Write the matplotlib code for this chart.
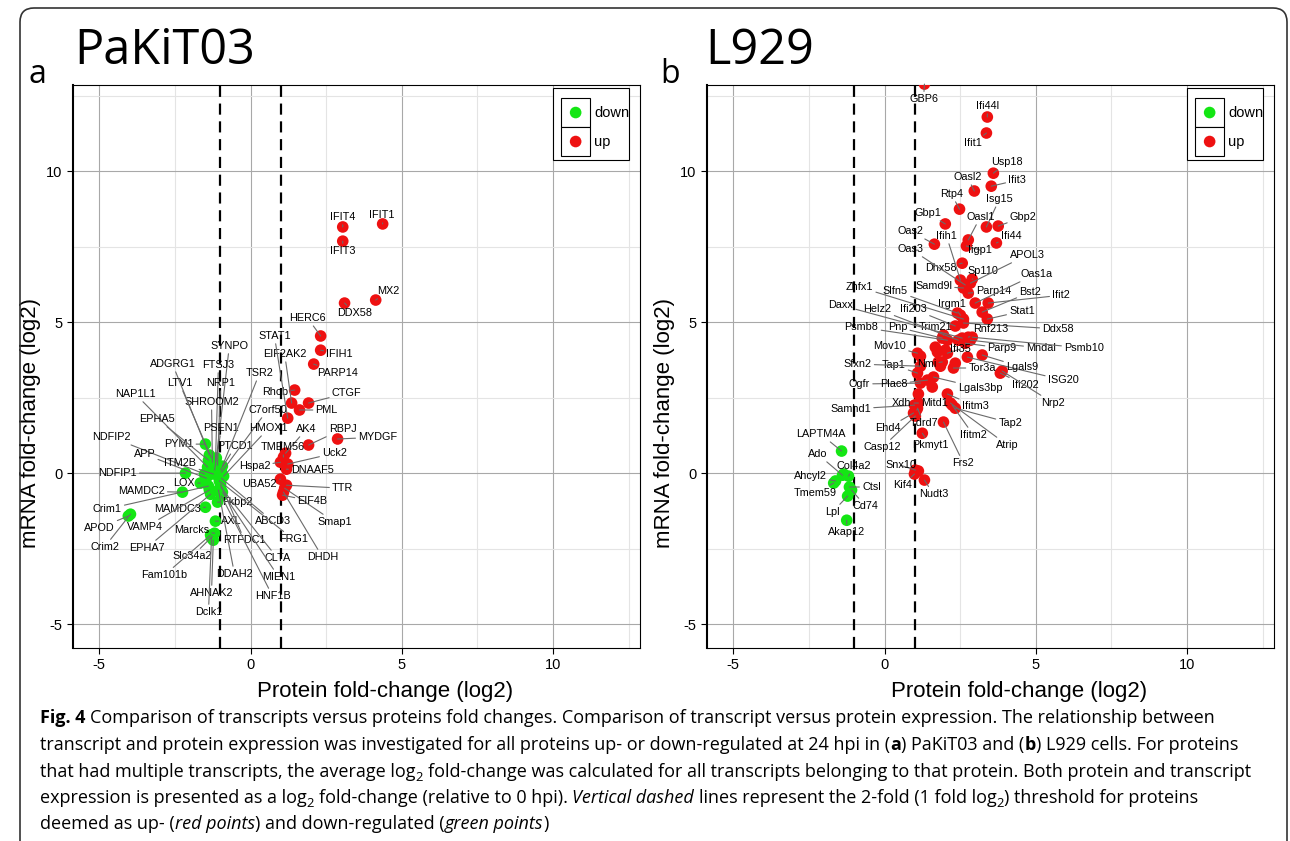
import matplotlib
matplotlib.use('Agg')
import matplotlib.pyplot as plt
from matplotlib import font_manager
from matplotlib.patches import Rectangle, FancyBboxPatch
from matplotlib.transforms import IdentityTransform

plt.rcParams['axes.unicode_minus'] = False
plt.rcParams['font.family'] = ['Liberation Sans', 'DejaVu Sans']

W, H = 1290, 841
GREEN = '#14e614'
RED = '#ee1111'

# ---------------- panel a : PaKiT03 ----------------
a_up = ['IFIT1', 'IFIT4', 'IFIT3', 'MX2', 'DDX58', 'HERC6', 'IFIH1', 'PARP14', 'Rhob',
        'EIF2AK2', 'CTGF', 'PML', 'STAT1', 'RBPJ', 'MYDGF', 'AK4', 'TMEM56', 'Hspa2',
        'Uck2', 'DNAAF5', 'UBA52', 'TTR', 'Smap1', 'DHDH', 'EIF4B']
a_up_x = [4.37, 3.05, 3.05, 4.14, 3.11, 2.32, 2.32, 2.09, 1.46,
          1.36, 1.92, 1.62, 1.23, 1.92, 2.88, 1.16, 1.09, 0.99,
          1.23, 1.19, 0.99, 1.19, 1.13, 1.09, 1.06]
a_up_y = [8.25, 8.15, 7.68, 5.73, 5.63, 4.54, 4.07, 3.61, 2.75,
          2.32, 2.32, 2.09, 1.82, 0.93, 1.13, 0.66, 0.53, 0.36,
          0.30, 0.13, -0.20, -0.40, -0.50, -0.63, -0.73]

a_down = ['PYM1', 'NDFIP1', 'LOX', 'MAMDC2', 'Fkbp2', 'MAMDC3', 'APOD', 'Crim2', 'AXL',
          'Slc34a2', 'Marcks', 'AHNAK2', 'Dclk1', 'Fam101b', 'SYNPO', 'FTSJ3', 'NRP1',
          'SHROOM2', 'PSEN1', 'PTCD1', 'ADGRG1', 'LTV1', 'NAP1L1', 'EPHA5', 'NDFIP2',
          'APP', 'ITM2B', 'Crim1', 'VAMP4', 'EPHA7', 'DDAH2', 'RTFDC1', 'ABCD3', 'FRG1',
          'CLTA', 'MIEN1', 'HNF1B', 'TSR2', 'C7orf50', 'HMOX1']
a_down_x = [-1.49, -2.15, -1.66, -2.25, -1.09, -1.49, -4.04, -3.97, -1.16,
            -1.26, -1.19, -1.23, -1.29, -1.32, -1.13, -1.16, -1.09,
            -1.26, -1.19, -0.99, -1.36, -1.29, -1.42, -1.39, -1.52,
            -1.46, -1.23, -1.39, -1.36, -1.32, -1.06, -0.99, -0.96, -1.03,
            -0.99, -0.93, -0.96, -0.93, -0.96, -0.89]
a_down_y = [0.96, 0.00, -0.33, -0.63, -0.96, -1.13, -1.42, -1.36, -1.59,
            -2.09, -1.99, -2.22, -2.15, -2.05, 0.50, 0.36, 0.26,
            0.36, 0.10, 0.10, 0.60, 0.50, 0.20, 0.43, -0.03,
            -0.17, -0.03, -0.43, -0.56, -0.70, -0.56, -0.36, -0.17, -0.26,
            -0.46, -0.63, -0.76, 0.23, 0.03, -0.10]

# label placement (repelled text positions, data units)
a_labels = {
    'IFIT1': (4.34, 8.54), 'IFIT4': (3.05, 8.48), 'IFIT3': (3.05, 7.35), 'MX2': (4.57, 6.03),
    'DDX58': (3.44, 5.30), 'HERC6': (1.89, 5.13), 'IFIH1': (2.95, 3.94), 'PARP14': (2.88, 3.31),
    'Rhob': (0.83, 2.68), 'EIF2AK2': (1.13, 3.94), 'CTGF': (3.18, 2.65), 'PML': (2.52, 2.09),
    'STAT1': (0.79, 4.54), 'RBPJ': (3.05, 1.46), 'MYDGF': (4.21, 1.19), 'AK4': (1.85, 1.46),
    'TMEM56': (1.06, 0.86), 'Hspa2': (0.13, 0.23), 'Uck2': (2.78, 0.66), 'DNAAF5': (2.05, 0.10),
    'UBA52': (0.30, -0.36), 'TTR': (3.05, -0.50), 'Smap1': (2.78, -1.62), 'DHDH': (2.38, -2.78),
    'EIF4B': (2.05, -0.93),
    'SYNPO': (-0.70, 4.21), 'FTSJ3': (-1.06, 3.58), 'ADGRG1': (-2.58, 3.61), 'LTV1': (-2.35, 2.98),
    'NRP1': (-0.99, 2.98), 'NAP1L1': (-3.81, 2.62), 'SHROOM2': (-1.29, 2.35), 'EPHA5': (-3.08, 1.79),
    'PSEN1': (-0.96, 1.49), 'NDFIP2': (-4.60, 1.19), 'PTCD1': (-0.50, 0.89), 'PYM1': (-2.38, 0.96),
    'APP': (-3.51, 0.63), 'ITM2B': (-2.32, 0.33), 'NDFIP1': (-4.40, 0.00), 'LOX': (-2.19, -0.33),
    'MAMDC2': (-3.61, -0.60), 'Crim1': (-4.74, -1.19), 'APOD': (-5.00, -1.82), 'VAMP4': (-3.48, -1.79),
    'MAMDC3': (-2.42, -1.19), 'Crim2': (-4.83, -2.45), 'EPHA7': (-3.44, -2.48), 'Marcks': (-1.95, -1.89),
    'Fkbp2': (-0.43, -0.96), 'AXL': (-0.63, -1.59), 'RTFDC1': (-0.20, -2.22), 'Slc34a2': (-1.92, -2.75),
    'Fam101b': (-2.85, -3.38), 'DDAH2': (-0.53, -3.34), 'AHNAK2': (-1.29, -3.97), 'Dclk1': (-1.39, -4.60),
    'ABCD3': (0.73, -1.59), 'FRG1': (1.42, -2.19), 'CLTA': (0.89, -2.81), 'MIEN1': (0.93, -3.44),
    'HNF1B': (0.73, -4.07), 'TSR2': (0.30, 3.31), 'C7orf50': (0.56, 2.09), 'HMOX1': (0.60, 1.49),
}

# ---------------- panel b : L929 ----------------
b_up = ['GBP6', 'Ifi44l', 'Ifit1', 'Usp18', 'Ifit3', 'Oasl2', 'Rtp4', 'Gbp1', 'Isg15', 'Gbp2',
        'Oasl1', 'Iigp1', 'Ifi44', 'Oas2', 'Dhx58', 'Ifih1', 'Oas3', 'Sp110', 'APOL3', 'Samd9l',
        'Parp14', 'Oas1a', 'Ifit2', 'Bst2', 'Stat1', 'Irgm1', 'Slfn5', 'Zhfx1', 'Ddx58', 'Ifi203',
        'Rnf213', 'Trim21', 'Helz2', 'Daxx', 'Psmb8', 'Pnp', 'Parp9', 'Mndal', 'Psmb10', 'Mov10',
        'Ifi35', 'ISG20', 'Lgals9', 'Tor3a', 'Ifi202', 'Nrp2', 'Nmi', 'Tap1', 'Sfxn2', 'Ogfr',
        'Plac8', 'Lgals3bp', 'Samhd1', 'Xdh', 'Mitd1', 'Ehd4', 'Casp12', 'Tdrd7', 'Ifitm3', 'Tap2',
        'Ifitm2', 'Atrip', 'Pkmyt1', 'Frs2', 'Snx10', 'Kif4', 'Nudt3',
        '', '', '', '', '', '', '', '', '', '']
b_up_x = [1.32, 3.40, 3.37, 3.60, 3.53, 2.97, 2.48, 2.01, 3.37, 3.76,
          2.77, 2.71, 3.70, 1.65, 2.57, 2.51, 2.67, 2.90, 2.84, 2.61,
          2.77, 3.00, 3.43, 3.23, 3.40, 2.51, 2.41, 2.61, 2.61, 2.34,
          2.77, 1.95, 2.44, 2.57, 2.08, 1.91, 2.67, 2.84, 2.90, 1.09,
          2.08, 2.74, 3.23, 2.28, 3.83, 3.89, 1.91, 1.09, 1.19, 1.19,
          1.42, 1.62, 0.99, 1.12, 1.06, 0.96, 1.02, 1.09, 2.08, 2.34,
          2.24, 2.18, 1.25, 1.95, 1.02, 0.99, 1.32,
          1.75, 1.68, 2.01, 1.78, 1.85, 2.34, 1.58, 1.12, 1.19, 1.12]
b_up_y = [12.88, 11.79, 11.26, 9.93, 9.50, 9.34, 8.74, 8.25, 8.15, 8.18,
          7.72, 7.52, 7.62, 7.58, 6.95, 6.39, 6.23, 6.42, 6.29, 6.13,
          5.96, 5.63, 5.63, 5.33, 5.10, 5.23, 5.30, 5.10, 4.97, 4.87,
          4.50, 4.57, 4.40, 4.47, 4.40, 4.47, 4.30, 4.40, 4.50, 3.97,
          3.97, 3.84, 3.91, 3.48, 3.31, 3.38, 3.68, 3.31, 3.54, 2.98,
          3.08, 3.18, 2.25, 2.32, 2.09, 1.99, 1.89, 2.15, 2.62, 2.15,
          2.25, 2.32, 1.32, 1.69, 0.10, -0.03, -0.23,
          4.01, 4.17, 4.07, 3.68, 3.54, 3.64, 2.85, 2.62, 3.87, 0.07]

b_down = ['LAPTM4A', 'Ado', 'Col4a2', 'Ahcyl2', 'Tmem59', 'Ctsl', 'Cd74', 'Lpl', 'Akap12', '']
b_down_x = [-1.42, -1.39, -1.19, -1.62, -1.68, -1.16, -1.09, -1.22, -1.25, -1.35]
b_down_y = [0.73, -0.07, -0.10, -0.26, -0.33, -0.46, -0.56, -0.76, -1.56, -0.03]

b_labels = {
    'GBP6': (1.29, 12.38), 'Ifi44l': (3.40, 12.15), 'Ifit1': (2.94, 10.93), 'Usp18': (4.06, 10.30),
    'Ifit3': (4.39, 9.70), 'Oasl2': (2.74, 9.80), 'Rtp4': (2.21, 9.24), 'Isg15': (3.80, 9.07),
    'Gbp1': (1.42, 8.61), 'Oasl1': (3.17, 8.48), 'Gbp2': (4.59, 8.48), 'Oas2': (0.86, 8.01),
    'Ifih1': (2.05, 7.85), 'Ifi44': (4.19, 7.85), 'Iigp1': (3.17, 7.38), 'Oas3': (0.86, 7.42),
    'APOL3': (4.72, 7.22), 'Dhx58': (1.85, 6.79), 'Sp110': (3.27, 6.69), 'Oas1a': (5.02, 6.59),
    'Samd9l': (1.62, 6.19), 'Zhfx1': (-0.83, 6.16), 'Slfn5': (0.36, 6.03), 'Parp14': (3.60, 6.03),
    'Bst2': (4.82, 5.99), 'Ifit2': (5.84, 5.89), 'Daxx': (-1.45, 5.56), 'Helz2': (-0.23, 5.43),
    'Ifi203': (0.96, 5.43), 'Irgm1': (2.24, 5.60), 'Stat1': (4.55, 5.36), 'Psmb8': (-0.76, 4.83),
    'Pnp': (0.43, 4.83), 'Trim21': (1.68, 4.83), 'Rnf213': (3.50, 4.77), 'Ddx58': (5.74, 4.77),
    'Mov10': (0.17, 4.21), 'Ifi35': (2.51, 4.11), 'Parp9': (3.89, 4.14), 'Mndal': (5.18, 4.14),
    'Psmb10': (6.60, 4.14), 'Sfxn2': (-0.89, 3.61), 'Tap1': (0.30, 3.58), 'Nmi': (1.39, 3.61),
    'Tor3a': (3.23, 3.48), 'Lgals9': (4.55, 3.51), 'ISG20': (5.91, 3.08), 'Ifi202': (4.65, 2.91),
    'Ogfr': (-0.83, 2.95), 'Plac8': (0.30, 2.95), 'Lgals3bp': (3.17, 2.81), 'Nrp2': (5.58, 2.32),
    'Samhd1': (-1.12, 2.12), 'Xdh': (0.56, 2.32), 'Mitd1': (1.65, 2.32), 'Ifitm3': (3.00, 2.22),
    'Tap2': (4.16, 1.66), 'Ehd4': (0.10, 1.49), 'Tdrd7': (1.29, 1.66), 'Ifitm2': (2.94, 1.26),
    'Atrip': (4.06, 0.93), 'Casp12': (-0.07, 0.86), 'Pkmyt1': (1.52, 0.93), 'Frs2': (2.61, 0.33),
    'Snx10': (0.53, 0.26), 'Kif4': (0.59, -0.40), 'Nudt3': (1.62, -0.70),
    'LAPTM4A': (-2.11, 1.29), 'Ado': (-2.21, 0.63), 'Col4a2': (-1.02, 0.23), 'Ahcyl2': (-2.44, -0.10),
    'Tmem59': (-2.28, -0.66), 'Ctsl': (-0.43, -0.46), 'Cd74': (-0.63, -1.09), 'Lpl': (-1.72, -1.29),
    'Akap12': (-1.25, -1.95),
}

fig = plt.figure(figsize=(W / 100, H / 100), dpi=100)


def panel(left, up, up_x, up_y, down, down_x, down_y, labels):
    ax = fig.add_axes([left / W, 1 - 648 / H, 567 / W, 563 / H])
    ax.set_xlim(-5.87, 12.88)
    ax.set_ylim(-5.79, 12.85)
    ax.set_xticks([-5, 0, 5, 10])
    ax.set_yticks([-5, 0, 5, 10])
    ax.set_xticks([-2.5, 2.5, 7.5, 12.5], minor=True)
    ax.set_yticks([-2.5, 2.5, 7.5, 12.5], minor=True)
    ax.grid(True, which='major', color='#a8a8a8', lw=0.8)
    ax.grid(True, which='minor', color='#e4e4e4', lw=0.8)
    ax.set_axisbelow(True)
    ax.tick_params(which='major', labelsize=10.5, length=4, width=0.8, colors='black')
    ax.tick_params(which='minor', length=0)
    for s in ax.spines.values():
        s.set_color('black')
        s.set_linewidth(0.8)
    ax.spines['left'].set_linewidth(1.5)
    ax.axvline(-1, color='black', lw=1.6, ls=(0, (5, 3)), zorder=2)
    ax.axvline(1, color='black', lw=1.6, ls=(0, (5, 3)), zorder=2)

    for names, xs, ys, col in [(down, down_x, down_y, GREEN), (up, up_x, up_y, RED)]:
        ax.scatter(xs, ys, s=70, color=col, edgecolors='none', zorder=3)
        for g, x, y in zip(names, xs, ys):
            if not g:
                continue
            lx, ly = labels[g]
            ax.annotate(g, (x, y), xytext=(lx, ly), textcoords='data',
                        ha='center', va='center', fontsize=7.8, zorder=4,
                        annotation_clip=False,
                        arrowprops=dict(arrowstyle='-', color='#6a6a6a', lw=0.8,
                                        shrinkA=0, shrinkB=0))

    # legend
    ax.add_patch(Rectangle((0.847, 0.867), 0.134, 0.128, transform=ax.transAxes,
                           fc='white', ec='black', lw=0.8, zorder=5))
    for yk, col, txt in [(0.9254, GREEN, 'down'), (0.8739, RED, 'up')]:
        ax.add_patch(Rectangle((0.861, yk), 0.051, 0.0515, transform=ax.transAxes,
                               fc='white', ec='black', lw=0.8, zorder=6))
        ax.scatter([0.8865], [yk + 0.0257], s=70, color=col, edgecolors='none',
                   transform=ax.transAxes, zorder=7, clip_on=False)
        ax.text(0.919, yk + 0.0257, txt, transform=ax.transAxes, fontsize=10.5,
                va='center', ha='left', zorder=7)

    ax.set_xlabel('Protein fold-change (log2)', fontsize=16)
    ax.xaxis.set_label_coords(0.55, -0.058)
    ax.set_ylabel('mRNA fold-change (log2)', fontsize=16)
    ax.yaxis.set_label_coords(-0.056, 0.40)
    return ax


panel(73, a_up, a_up_x, a_up_y, a_down, a_down_x, a_down_y, a_labels)
panel(707, b_up, b_up_x, b_up_y, b_down, b_down_x, b_down_y, b_labels)

# panel titles
fig.text(74 / W, 1 - 64 / H, 'PaKiT03', fontsize=35, family='Open Sans', va='baseline')
fig.text(28 / W, 1 - 83 / H, 'a', fontsize=23, family='Open Sans', va='baseline')
fig.text(705 / W, 1 - 64 / H, 'L929', fontsize=35, family='Open Sans', va='baseline')
fig.text(660 / W, 1 - 83 / H, 'b', fontsize=23, family='Open Sans', va='baseline')

# rounded frame
fig.add_artist(FancyBboxPatch((20, -30), 1267, 863, boxstyle='round,pad=0,rounding_size=14',
                              transform=IdentityTransform(), fill=False, ec='#333333', lw=1.2))

# caption with mixed styles: pick a family that has a real bold face
CAP = 'DejaVu Sans'
for fam in ['Noto Sans', 'Open Sans', 'Lato', 'Roboto', 'Liberation Sans']:
    weights = [f.weight for f in font_manager.fontManager.ttflist if f.name == fam]
    if any((w == 'bold' or (isinstance(w, int) and w >= 600)) for w in weights):
        CAP = fam
        break
CFS = 13.0
R = fig.canvas.get_renderer()


def width(s, **kw):
    t = fig.text(0, 0, s, fontsize=kw.pop('fontsize', CFS), family=CAP, **kw)
    w = t.get_window_extent(renderer=R).width
    t.remove()
    return w


SW = width('a a') - width('aa')
caption = [
    [('Fig. 4', 'b'), (' Comparison of transcripts versus proteins fold changes. Comparison of transcript '
                      'versus protein expression. The relationship between', 'n')],
    [('transcript and protein expression was investigated for all proteins up- or down-regulated at 24 hpi in (', 'n'),
     ('a', 'b'), (') PaKiT03 and (', 'n'), ('b', 'b'), (') L929 cells. For proteins', 'n')],
    [('that had multiple transcripts, the average log', 'n'), ('2', 's'),
     (' fold-change was calculated for all transcripts belonging to that protein. Both protein and transcript', 'n')],
    [('expression is presented as a log', 'n'), ('2', 's'), (' fold-change (relative to 0 hpi). ', 'n'),
     ('Vertical dashed', 'i'), (' lines represent the 2-fold (1 fold log', 'n'), ('2', 's'),
     (') threshold for proteins', 'n')],
    [('deemed as up- (', 'n'), ('red points', 'i'), (') and down-regulated (', 'n'), ('green points', 'i'), (')', 'n')],
]
baselines = [723, 750, 777, 803, 829]
for parts, yb in zip(caption, baselines):
    x = 40.0
    for s, st in parts:
        kw = {}
        fs = CFS
        dy = 0
        if st == 'b':
            kw['fontweight'] = 'bold'
        elif st == 'i':
            kw['fontstyle'] = 'italic'
        elif st == 's':
            fs = CFS * 0.72
            dy = 4
        lead = len(s) - len(s.lstrip(' '))
        trail = len(s) - len(s.rstrip(' '))
        core = s.strip(' ')
        x += lead * SW
        fig.text(x / W, 1 - (yb + dy) / H, core, fontsize=fs, family=CAP, va='baseline', **kw)
        x += width(core, fontsize=fs, **kw) + trail * SW

fig.savefig('out.png', dpi=100)
